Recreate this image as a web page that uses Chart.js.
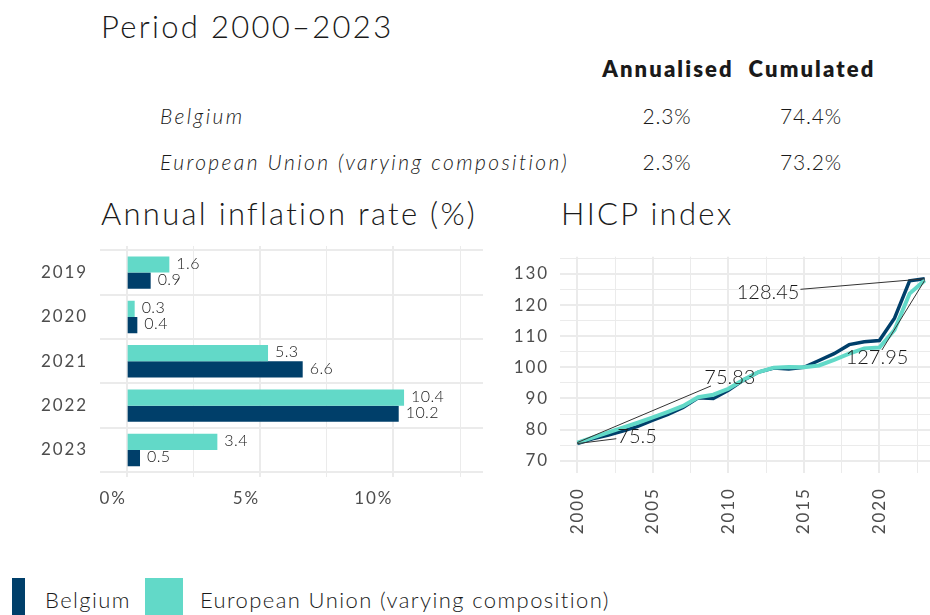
<!DOCTYPE html>
<html>
<head>
<meta charset="utf-8">
<script src="https://cdn.jsdelivr.net/npm/chart.js@4/dist/chart.umd.min.js"></script>
<style>
  html, body { margin: 0; padding: 0; width: 930px; height: 615px; overflow: hidden; background: #fff; }
  body { position: relative; font-family: Lato, "Open Sans", sans-serif; color: #1a1a1a; }
  .t { position: absolute; white-space: nowrap; line-height: 1; }
  .big { font-size: 31px; font-weight: 300; letter-spacing: 2.3px; }
  .hdr { font-size: 22px; font-weight: 800; letter-spacing: 2.1px; transform: translateX(-50%); }
  .row { font-size: 21px; font-style: italic; font-weight: 300; letter-spacing: 2.4px; }
  .val { font-size: 21px; font-weight: 300; letter-spacing: 0.8px; transform: translateX(-50%); }
  .key { position: absolute; top: 578px; height: 40px; }
  .leg { font-size: 22px; font-weight: 300; letter-spacing: 1.4px; }
  canvas { position: absolute; }
</style>
</head>
<body>
  <div class="t big" style="left:101px; top:11px;">Period 2000–2023</div>

  <div class="t hdr" style="left:668px; top:58px;">Annualised</div>
  <div class="t hdr" style="left:812px; top:58px;">Cumulated</div>

  <div class="t row" style="left:160px; top:105px;">Belgium</div>
  <div class="t row" style="left:160px; top:151px;">European Union (varying composition)</div>
  <div class="t val" id="be-ann" style="left:667px; top:105px;"></div>
  <div class="t val" id="be-cum" style="left:811px; top:105px;"></div>
  <div class="t val" id="eu-ann" style="left:667px; top:151px;"></div>
  <div class="t val" id="eu-cum" style="left:811px; top:151px;"></div>

  <div class="t big" style="left:101px; top:198px;">Annual inflation rate (%)</div>
  <div class="t big" style="left:561px; top:198px;">HICP index</div>

  <canvas id="rates" width="490" height="320" style="left:0; top:240px;"></canvas>
  <canvas id="hicp" width="440" height="320" style="left:490px; top:240px;"></canvas>

  <div class="key" style="left:12px; width:13px; background:#003f6a;"></div>
  <div class="t leg" style="left:45px; top:589px;">Belgium</div>
  <div class="key" style="left:145px; width:38px; background:#62d9c8;"></div>
  <div class="t leg" style="left:200px; top:589px;">European Union (varying composition)</div>

<script>
// ---- summary figures for 2000–2023 ----
const annualisedBelgium = 2.3;
const annualisedEU = 2.3;
const cumulatedBelgium = 74.4;
const cumulatedEU = 73.2;

// ---- annual inflation rate (%) ----
const rateYears = [2019, 2020, 2021, 2022, 2023];
const rateBelgium = [0.9, 0.4, 6.6, 10.2, 0.5];
const rateEU = [1.6, 0.3, 5.3, 10.4, 3.4];
const rateTicks = [0, 2.5, 5, 7.5, 10, 12.5];

// ---- HICP index ----
const indexYears = [2000, 2001, 2002, 2003, 2004, 2005, 2006, 2007, 2008, 2009, 2010, 2011,
                    2012, 2013, 2014, 2015, 2016, 2017, 2018, 2019, 2020, 2021, 2022, 2023];
const hicpBelgium = [75.5, 77.0, 78.2, 79.5, 81.0, 83.0, 84.9, 87.1, 90.2, 90.0, 92.6, 95.9,
                     98.5, 99.8, 99.5, 100.0, 102.2, 104.4, 107.3, 108.2, 108.6, 115.8, 127.8, 128.45];
const hicpEU = [75.83, 77.4, 79.0, 80.6, 82.2, 83.9, 85.7, 87.6, 90.4, 91.2, 93.1, 96.0,
                98.5, 99.9, 100.1, 100.0, 100.6, 102.4, 104.4, 106.1, 106.4, 112.0, 123.7, 127.95];
const hicpYearTicks = [2000, 2002.5, 2005, 2007.5, 2010, 2012.5, 2015, 2017.5, 2020, 2022.5];
const hicpValueTicks = [70, 75, 80, 85, 90, 95, 100, 105, 110, 115, 120, 125, 130, 135];

const DARK = '#003f6a';
const TEAL = '#62d9c8';
const GRID = '#ebebeb';
const TICK = '#4d4d4d';
const FONT = 'Lato, "Open Sans", sans-serif';

// summary table values
const pct = v => v.toFixed(1) + '%';
document.getElementById('be-ann').textContent = pct(annualisedBelgium);
document.getElementById('be-cum').textContent = pct(cumulatedBelgium);
document.getElementById('eu-ann').textContent = pct(annualisedEU);
document.getElementById('eu-cum').textContent = pct(cumulatedEU);

const setTicks = list => scale => { scale.ticks = list.map(v => ({ value: v })); };
const gridWidth = major => c => (c.tick && major(c.tick.value)) ? 2 : 1;
const fixBox = (prop, size) => s => { s[prop] = size; s.paddingLeft = 0; s.paddingRight = 0; s.paddingTop = 0; s.paddingBottom = 0; };

// wider tracking for axis text
const tracking = {
  id: 'tracking',
  beforeLayout(chart) { chart.ctx.letterSpacing = '1.9px'; },
  beforeDraw(chart) { chart.ctx.letterSpacing = '1.9px'; }
};

// thin lines between the year rows
const yearSeparators = {
  id: 'yearSeparators',
  beforeDatasetsDraw(chart) {
    const ctx = chart.ctx, ys = chart.scales.y, area = chart.chartArea;
    ctx.save();
    ctx.strokeStyle = GRID;
    ctx.lineWidth = 1;
    const edges = rateYears.map(y => y - 0.5).concat([rateYears[rateYears.length - 1] + 0.5]);
    edges.forEach(v => {
      const py = Math.round(ys.getPixelForValue(v)) + 0.5;
      ctx.beginPath();
      ctx.moveTo(area.left, py);
      ctx.lineTo(area.right, py);
      ctx.stroke();
    });
    ctx.restore();
  }
};

// value printed at the end of each bar
const barValueLabels = {
  id: 'barValueLabels',
  afterDatasetsDraw(chart) {
    const ctx = chart.ctx;
    ctx.save();
    ctx.letterSpacing = '0.4px';
    ctx.font = '300 16px ' + FONT;
    ctx.fillStyle = '#1a1a1a';
    ctx.textAlign = 'left';
    ctx.textBaseline = 'middle';
    chart.data.datasets.forEach((ds, i) => {
      chart.getDatasetMeta(i).data.forEach((bar, j) => {
        ctx.fillText(ds.data[j].x.toFixed(1), bar.x + 7, bar.y - 1);
      });
    });
    ctx.restore();
  }
};

new Chart(document.getElementById('rates'), {
  type: 'bar',
  data: {
    datasets: [
      { label: 'European Union (varying composition)', backgroundColor: TEAL,
        data: rateEU.map((v, i) => ({ x: v, y: rateYears[i] })) },
      { label: 'Belgium', backgroundColor: DARK,
        data: rateBelgium.map((v, i) => ({ x: v, y: rateYears[i] })) }
    ]
  },
  options: {
    indexAxis: 'y',
    responsive: false,
    animation: false,
    events: [],
    layout: { padding: { top: 6, right: 7, left: 0, bottom: 0 } },
    categoryPercentage: 0.73,
    barPercentage: 1,
    plugins: { legend: { display: false }, tooltip: { enabled: false } },
    scales: {
      x: {
        type: 'linear', min: -1.0, max: 13.36,
        afterBuildTicks: setTicks(rateTicks),
        afterFit: fixBox('height', 83.4),
        border: { display: false },
        grid: { color: GRID, lineWidth: gridWidth(v => v % 5 === 0), drawTicks: false },
        ticks: {
          autoSkip: false, align: 'end', padding: 12, color: TICK, font: { family: FONT, size: 17 },
          callback: v => (v % 5 === 0 ? v + '%' : '')
        }
      },
      y: {
        type: 'linear', reverse: true, offset: false, min: 2018.4, max: 2023.6,
        afterBuildTicks: setTicks(rateYears),
        afterFit: fixBox('width', 100),
        border: { display: false },
        grid: { color: GRID, lineWidth: 2, drawTicks: false },
        ticks: {
          autoSkip: false, padding: 12, color: TICK, font: { family: FONT, size: 17 },
          callback: v => String(v)
        }
      }
    }
  },
  plugins: [tracking, yearSeparators, barValueLabels]
});

// repelled value labels for the first and last index points
const hicpCallouts = [
  { dataset: 1, index: 0,  at: [2003.95, 77.9] },
  { dataset: 0, index: 0,  at: [2010.1, 96.6] },
  { dataset: 1, index: 23, at: [2012.63, 124.2] },
  { dataset: 0, index: 23, at: [2019.84, 103.0] }
];

const calloutPlugin = {
  id: 'callouts',
  afterDatasetsDraw(chart) {
    const ctx = chart.ctx, xs = chart.scales.x, ys = chart.scales.y;
    ctx.save();
    ctx.letterSpacing = '0px';
    ctx.font = '300 20px ' + FONT;
    ctx.textAlign = 'center';
    ctx.textBaseline = 'middle';
    hicpCallouts.forEach(c => {
      const pt = chart.data.datasets[c.dataset].data[c.index];
      const ax = xs.getPixelForValue(pt.x), ay = ys.getPixelForValue(pt.y);
      const cx = xs.getPixelForValue(c.at[0]), cy = ys.getPixelForValue(c.at[1]);
      const text = String(pt.y);
      const hw = ctx.measureText(text).width / 2 + 1, hh = 8;
      // clip the leader to the label box
      const dx = ax - cx, dy = ay - cy;
      const t = Math.min(Math.abs(hw / (dx || 1e-9)), Math.abs(hh / (dy || 1e-9)));
      const ex = cx + dx * t, ey = cy + dy * t;
      ctx.strokeStyle = '#333';
      ctx.lineWidth = 1;
      ctx.beginPath();
      ctx.moveTo(ax, ay);
      ctx.lineTo(ex, ey);
      ctx.stroke();
      ctx.fillStyle = '#1a1a1a';
      ctx.fillText(text, cx, cy);
    });
    ctx.restore();
  }
};

new Chart(document.getElementById('hicp'), {
  type: 'line',
  data: {
    datasets: [
      { label: 'European Union (varying composition)', borderColor: TEAL, borderWidth: 4,
        pointRadius: 0, tension: 0,
        data: hicpEU.map((v, i) => ({ x: indexYears[i], y: v })) },
      { label: 'Belgium', borderColor: DARK, borderWidth: 3.5,
        pointRadius: 0, tension: 0,
        data: hicpBelgium.map((v, i) => ({ x: indexYears[i], y: v })) }
    ]
  },
  options: {
    responsive: false,
    animation: false,
    events: [],
    layout: { padding: { top: 16.7, right: 0, left: 0, bottom: 0 } },
    plugins: { legend: { display: false }, tooltip: { enabled: false } },
    scales: {
      x: {
        type: 'linear', min: 1998.85, max: 2023.35,
        afterBuildTicks: setTicks(hicpYearTicks),
        afterFit: fixBox('height', 86.7),
        border: { display: false },
        grid: { color: GRID, lineWidth: gridWidth(v => v % 5 === 0), drawTicks: false },
        ticks: {
          autoSkip: false, minRotation: 90, maxRotation: 90, padding: 14, color: TICK,
          font: { family: FONT, size: 17 },
          callback: v => (v % 5 === 0 ? String(v) : '')
        }
      },
      y: {
        type: 'linear', min: 65.95, max: 135.56,
        afterBuildTicks: setTicks(hicpValueTicks),
        afterFit: fixBox('width', 70),
        border: { display: false },
        grid: { color: GRID, lineWidth: gridWidth(v => v % 10 === 0), drawTicks: false },
        ticks: {
          autoSkip: false, padding: 11, color: TICK, font: { family: FONT, size: 17 },
          callback: v => (v % 10 === 0 ? String(v) : '')
        }
      }
    }
  },
  plugins: [tracking, calloutPlugin]
});
</script>
</body>
</html>
